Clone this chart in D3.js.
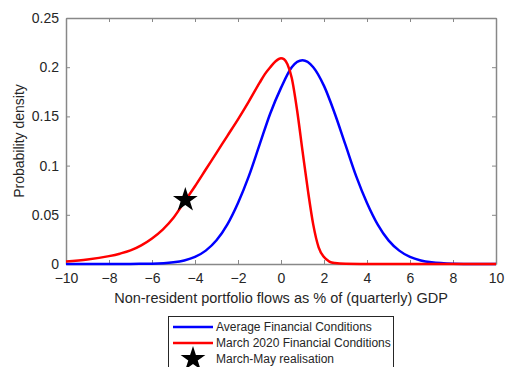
<!DOCTYPE html>
<html>
<head>
<meta charset="utf-8">
<script src="https://cdn.jsdelivr.net/npm/d3@7"></script>
<style>
  body { margin: 0; background: #fff; }
  svg { display: block; font-family: "Liberation Sans", Arial, sans-serif; }
</style>
</head>
<body>
<svg id="chart"></svg>
<script>
// Data
var blueX = [-10, -9, -8, -7, -6, -5, -4.5, -4, -3.5, -3, -2.5, -2, -1.5, -1, -0.5, 0, 0.5, 1, 1.5, 2, 2.5, 3, 3.5, 4, 4.5, 5, 5.5, 6, 6.5, 7, 8, 9, 10];
var blueY = [0, 0, 0, 0.0001, 0.0003, 0.0017, 0.0036, 0.0072, 0.0136, 0.0241, 0.040, 0.062, 0.089, 0.121, 0.153, 0.179, 0.200, 0.207, 0.200, 0.181, 0.153, 0.121, 0.089, 0.062, 0.040, 0.024, 0.0136, 0.0072, 0.0036, 0.0017, 0.0003, 0, 0];

var redX = [-10, -9, -8, -7.5, -7, -6.5, -6, -5.5, -5, -4.5, -4, -3.5, -3, -2.5, -2, -1.5, -1, -0.75, -0.5, -0.25, 0, 0.15, 0.3, 0.5, 0.75, 1, 1.25, 1.5, 1.75, 2, 2.25, 2.5, 3, 4, 6, 8, 10];
var redY = [0.0025, 0.0045, 0.008, 0.0105, 0.0138, 0.019, 0.026, 0.035, 0.047, 0.063, 0.079, 0.096, 0.113, 0.130, 0.147, 0.165, 0.184, 0.193, 0.200, 0.206, 0.209, 0.208, 0.203, 0.189, 0.156, 0.115, 0.075, 0.040, 0.017, 0.007, 0.0025, 0.001, 0.0002, 0, 0, 0, 0];

var starX = [-4.45];
var starY = [0.065];

var xTicks = [-10, -8, -6, -4, -2, 0, 2, 4, 6, 8, 10];
var yTicks = [0, 0.05, 0.1, 0.15, 0.2, 0.25];

var legendLabels = ['Average Financial Conditions', 'March 2020 Financial Conditions', 'March-May realisation'];

var width = 505,
    height = 367,
    margin = {left: 66, right: 9, top: 18, bottom: 103};

var axisColor = '#888888',
    textColor = '#262626';

var svg = d3.select('#chart')
    .attr('width', width)
    .attr('height', height);

var x = d3.scaleLinear()
    .domain([-10, 10])
    .range([margin.left, width - margin.right]);

var y = d3.scaleLinear()
    .domain([0, 0.25])
    .range([height - margin.bottom, margin.top]);

// Axes (MATLAB style: ticks inside, box all round)
function styleAxis(g) {
    g.selectAll('path').attr('stroke', axisColor);
    g.selectAll('line').attr('stroke', axisColor);
    g.selectAll('text')
        .attr('fill', textColor)
        .style('font-size', '14px');
}

svg.append('g')
    .attr('transform', 'translate(0,' + y(0) + ')')
    .call(d3.axisBottom(x).tickValues(xTicks).tickSizeInner(-4).tickSizeOuter(0).tickPadding(9))
    .call(styleAxis);

svg.append('g')
    .attr('transform', 'translate(0,' + y(0.25) + ')')
    .call(d3.axisTop(x).tickValues(xTicks).tickSizeInner(-4).tickSizeOuter(0).tickFormat(''))
    .call(styleAxis);

svg.append('g')
    .attr('transform', 'translate(' + x(-10) + ',0)')
    .call(d3.axisLeft(y).tickValues(yTicks).tickSizeInner(-4).tickSizeOuter(0).tickPadding(7)
        .tickFormat(function (d) { return d === 0 ? '0' : String(+d.toFixed(2)); }))
    .call(styleAxis);

svg.append('g')
    .attr('transform', 'translate(' + x(10) + ',0)')
    .call(d3.axisRight(y).tickValues(yTicks).tickSizeInner(-4).tickSizeOuter(0).tickFormat(''))
    .call(styleAxis);

svg.selectAll('.domain').attr('stroke-width', 1.5);

// Axis labels
svg.append('text')
    .attr('x', 281)
    .attr('y', 303)
    .attr('text-anchor', 'middle')
    .attr('fill', textColor)
    .style('font-size', '14.5px')
    .text('Non-resident portfolio flows as % of (quarterly) GDP');

svg.append('text')
    .attr('transform', 'translate(24,' + ((y(0) + y(0.25)) / 2) + ') rotate(-90)')
    .attr('text-anchor', 'middle')
    .attr('fill', textColor)
    .style('font-size', '14px')
    .text('Probability density');

// Curves
var line = d3.line()
    .x(function (d) { return x(d[0]); })
    .y(function (d) { return y(d[1]); })
    .curve(d3.curveMonotoneX);

var blueData = d3.zip(blueX, blueY),
    redData = d3.zip(redX, redY);

svg.append('path')
    .datum(blueData)
    .attr('d', line)
    .attr('fill', 'none')
    .attr('stroke', '#0000ff')
    .attr('stroke-width', 2.5);

svg.append('path')
    .datum(redData)
    .attr('d', line)
    .attr('fill', 'none')
    .attr('stroke', '#ff0000')
    .attr('stroke-width', 2.5);

var star = d3.symbol().type(d3.symbolStar).size(190);

svg.selectAll('.star')
    .data(d3.zip(starX, starY))
    .enter().append('path')
    .attr('class', 'star')
    .attr('d', star)
    .attr('transform', function (d) { return 'translate(' + x(d[0]) + ',' + y(d[1]) + ')'; })
    .attr('fill', '#000');

// Legend
var legend = svg.append('g')
    .attr('transform', 'translate(168,316)');

legend.append('rect')
    .attr('x', 0.5)
    .attr('y', 0.5)
    .attr('width', 225)
    .attr('height', 60)
    .attr('fill', '#fff')
    .attr('stroke', '#262626')
    .attr('stroke-width', 1);

var legendColors = ['#0000ff', '#ff0000', null];

legendLabels.forEach(function (label, i) {
    var ly = 11 + i * 16;
    if (legendColors[i]) {
        legend.append('line')
            .attr('x1', 5)
            .attr('x2', 45)
            .attr('y1', ly)
            .attr('y2', ly)
            .attr('stroke', legendColors[i])
            .attr('stroke-width', 2.5);
    } else {
        legend.append('path')
            .attr('d', star)
            .attr('transform', 'translate(25,' + ly + ')')
            .attr('fill', '#000');
    }
    legend.append('text')
        .attr('x', 48)
        .attr('y', ly + 4)
        .attr('fill', textColor)
        .style('font-size', '12px')
        .text(label);
});
</script>
</body>
</html>
